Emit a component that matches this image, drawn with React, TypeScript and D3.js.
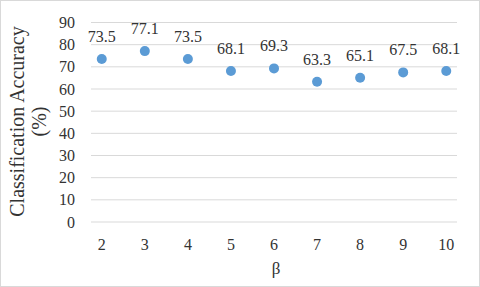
import React from "react";
import * as d3 from "d3";

const betas = [2, 3, 4, 5, 6, 7, 8, 9, 10];
const accuracy = [73.5, 77.1, 73.5, 68.1, 69.3, 63.3, 65.1, 67.5, 68.1];
const yTicks = [0, 10, 20, 30, 40, 50, 60, 70, 80, 90];

export default function App() {
  const W = 480, H = 287;
  const x = d3.scaleLinear().domain([1.75, 10.25]).range([91, 457]);
  const y = d3.scaleLinear().domain([0, 90]).range([222, 22.5]);
  const font = "'Liberation Serif', 'Times New Roman', serif";
  const col = "#333";
  return (
    <svg width={W} height={H} style={{ position: "absolute", left: 0, top: 0 }} fontFamily={font}>
      <rect x={0.5} y={0.5} width={W - 1} height={H - 1} fill="#fff" stroke="#d9d9d9" />
      {yTicks.map((t) => (
        <g key={t}>
          <line x1={91} x2={457} y1={y(t)} y2={y(t)} stroke="#d9d9d9" strokeWidth={1} />
          <text x={75} y={y(t)} dy="0.35em" textAnchor="end" fontSize={16} fill={col}>{t}</text>
        </g>
      ))}
      {betas.map((b) => (
        <text key={b} x={x(b)} y={249.5} textAnchor="middle" fontSize={16} fill={col}>{b}</text>
      ))}
      <text x={x(6) + 2} y={274} textAnchor="middle" fontSize={17} fill={col}>β</text>
      <g transform="translate(0,121.5) rotate(-90)">
        <text x={0} y={24} textAnchor="middle" fontSize={20} fill={col}>Classification Accuracy</text>
        <text x={0} y={46} textAnchor="middle" fontSize={20} fill={col}>(%)</text>
      </g>
      {betas.map((b, i) => (
        <g key={"p" + b}>
          <circle cx={x(b)} cy={y(accuracy[i])} r={5} fill="#5b9bd5" />
          <text x={x(b)} y={y(accuracy[i]) - 17} textAnchor="middle" fontSize={16} fill={col}>{accuracy[i].toFixed(1)}</text>
        </g>
      ))}
    </svg>
  );
}
